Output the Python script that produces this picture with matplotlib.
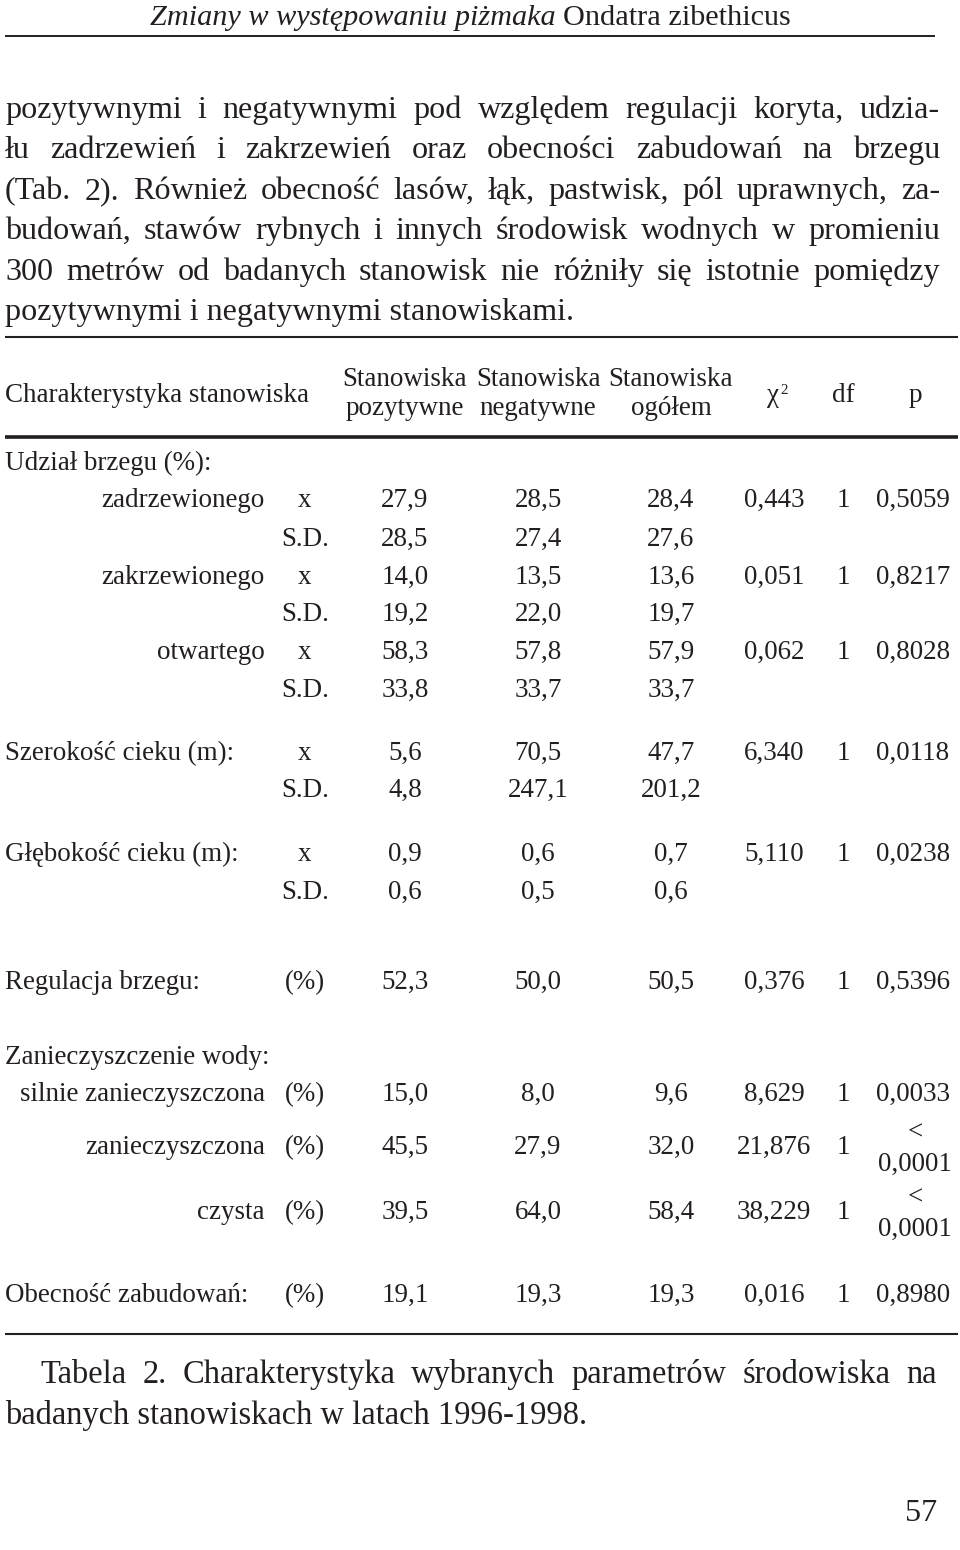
import matplotlib
matplotlib.use("Agg")
import matplotlib.pyplot as plt

# ---------------- data ----------------
header_italic = "Zmiany w występowaniu piżmaka"
header_upright = "Ondatra zibethicus"

body_lines = [
    "pozytywnymi i negatywnymi pod względem regulacji koryta, udzia-",
    "łu zadrzewień i zakrzewień oraz obecności zabudowań na brzegu",
    "(Tab. 2). Również obecność lasów, łąk, pastwisk, pól uprawnych, za-",
    "budowań, stawów rybnych i innych środowisk wodnych w promieniu",
    "300 metrów od badanych stanowisk nie różniły się istotnie pomiędzy",
    "pozytywnymi i negatywnymi stanowiskami.",
]

col_headers = ["Charakterystyka stanowiska",
               "Stanowiska\npozytywne", "Stanowiska\nnegatywne", "Stanowiska\nogółem",
               "χ", "df", "p"]

section_titles = ["Udział brzegu (%):", "Zanieczyszczenie wody:"]

row_labels = ["zadrzewionego", "", "zakrzewionego", "", "otwartego", "",
              "Szerokość cieku (m):", "", "Głębokość cieku (m):", "",
              "Regulacja brzegu:", "silnie zanieczyszczona", "zanieczyszczona",
              "czysta", "Obecność zabudowań:"]
row_label_kind = ["sub", "sub", "sub", "sub", "sub", "sub",
                  "main", "main", "main", "main",
                  "main", "sub", "sub", "sub", "main"]
row_stat = ["x", "S.D.", "x", "S.D.", "x", "S.D.", "x", "S.D.", "x", "S.D.",
            "(%)", "(%)", "(%)", "(%)", "(%)"]
val_pos = [27.9, 28.5, 14.0, 19.2, 58.3, 33.8, 5.6, 4.8, 0.9, 0.6, 52.3, 15.0, 45.5, 39.5, 19.1]
val_neg = [28.5, 27.4, 13.5, 22.0, 57.8, 33.7, 70.5, 247.1, 0.6, 0.5, 50.0, 8.0, 27.9, 64.0, 19.3]
val_all = [28.4, 27.6, 13.6, 19.7, 57.9, 33.7, 47.7, 201.2, 0.7, 0.6, 50.5, 9.6, 32.0, 58.4, 19.3]
val_chi2 = [0.443, None, 0.051, None, 0.062, None, 6.340, None, 5.110, None,
            0.376, 8.629, 21.876, 38.229, 0.016]
val_df = [1, None, 1, None, 1, None, 1, None, 1, None, 1, 1, 1, 1, 1]
val_p = [0.5059, None, 0.8217, None, 0.8028, None, 0.0118, None, 0.0238, None,
         0.5396, 0.0033, 0.0001, 0.0001, 0.8980]
p_is_less = [False] * 12 + [True, True, False]

caption_lines = ["Tabela 2. Charakterystyka wybranych parametrów środowiska na",
                 "badanych stanowiskach w latach 1996-1998."]
page_number = "57"

# ---------------- layout ----------------
W, H = 960, 1550
INK = "#231f20"
FAM = ["Liberation Serif", "DejaVu Serif"]

fig = plt.figure(figsize=(W / 100, H / 100), dpi=100)
ax = fig.add_axes([0, 0, 1, 1])
ax.set_xlim(0, W)
ax.set_ylim(H, 0)
ax.axis("off")
renderer = fig.canvas.get_renderer()


def measure(s, size, style="normal"):
    t = ax.text(0, 0, s, fontsize=size, family=FAM, style=style)
    w = t.get_window_extent(renderer).width
    t.remove()
    return w


def fit(s, target, style="normal"):
    return 20 * target / measure(s, 20, style)


def put(x, y, s, size, ha="left", style="normal", va="baseline"):
    ax.text(x, y, s, fontsize=size, family=FAM, style=style, color=INK,
            ha=ha, va=va)


def justify(line, y, x0, x1, size):
    words = line.split(" ")
    widths = [measure(w, size) for w in words]
    gap = (x1 - x0 - sum(widths)) / (len(words) - 1)
    x = x0
    for w, wd in zip(words, widths):
        put(x, y, w, size)
        x += wd + gap


def hline(y, x0, x1, lw):
    ax.plot([x0, x1], [y, y], color=INK, lw=lw, solid_capstyle="butt")


def fmt(v, d):
    return f"{v:.{d}f}".replace(".", ",")


# header
s_title = 20 * 640 / (measure(header_italic + " ", 20, "italic") + measure(header_upright, 20))
w_it = measure(header_italic + " ", s_title, "italic")
w_up = measure(header_upright, s_title)
x_start = 470 - (w_it + w_up) / 2
put(x_start, 25, header_italic, s_title, style="italic")
put(x_start + w_it, 25, header_upright, s_title)
hline(36, 5, 935, 1.4)

# body paragraph
s_body = fit(body_lines[-1], 570)
for i, line in enumerate(body_lines):
    yb = 118 + 40.4 * i
    if i < len(body_lines) - 1:
        justify(line, yb, 5, 940, s_body)
    else:
        put(5, yb, line, s_body)

# table
s_tab = fit(col_headers[0], 303)
em = s_tab * 100 / 72
off = 0.335 * em   # baseline offset from digit centre

hline(337, 5, 958, 1.5)
hline(437, 5, 958, 2.6)
hline(1334, 5, 958, 1.5)

col_x = [None, 405, 538, 671, 774, 843, 913]
put(5, 393 + off, col_headers[0], s_tab)
for cx, h in zip(col_x[1:4], col_headers[1:4]):
    top, bot = h.split("\n")
    put(cx, 377 + off, top, s_tab, ha="center")
    put(cx, 409 + off - 3, bot, s_tab, ha="center")
put(col_x[4] - 1, 393 + off, col_headers[4], s_tab, ha="center")
put(col_x[4] + 6, 394, "2", s_tab * 0.55, ha="left")
put(col_x[5], 393 + off, col_headers[5], s_tab, ha="center")
put(col_x[6] + 2, 393 + off, col_headers[6], s_tab, ha="center")

section_y = [461, 1055]
for t, yc in zip(section_titles, section_y):
    put(5, yc + off, t, s_tab)

row_y = [498, 537, 575, 612, 650, 688, 751, 788, 852, 890, 980, 1092, 1145, 1210, 1293]
for i, yc in enumerate(row_y):
    yb = yc + off
    if row_labels[i]:
        if row_label_kind[i] == "sub":
            put(265, yb, row_labels[i], s_tab, ha="right")
        else:
            put(5, yb, row_labels[i], s_tab)
    put(305, yb, row_stat[i], s_tab, ha="center")
    put(col_x[1], yb, fmt(val_pos[i], 1), s_tab, ha="center")
    put(col_x[2], yb, fmt(val_neg[i], 1), s_tab, ha="center")
    put(col_x[3], yb, fmt(val_all[i], 1), s_tab, ha="center")
    if val_chi2[i] is not None:
        put(col_x[4], yb, fmt(val_chi2[i], 3), s_tab, ha="center")
    if val_df[i] is not None:
        put(col_x[5], yb, str(val_df[i]), s_tab, ha="center")
    if val_p[i] is not None:
        if p_is_less[i]:
            put(col_x[6] + 2, yb - 15, "<", s_tab, ha="center")
            put(col_x[6] + 2, yb + 17, fmt(val_p[i], 4), s_tab, ha="center")
        else:
            put(col_x[6], yb, fmt(val_p[i], 4), s_tab, ha="center")

# caption
s_cap = fit(caption_lines[1], 582)
justify(caption_lines[0], 1383, 40, 937, s_cap)
put(5, 1424, caption_lines[1], s_cap)

# page number
put(937, 1521, page_number, s_body, ha="right")

fig.savefig("out.png", dpi=100, facecolor="white")
